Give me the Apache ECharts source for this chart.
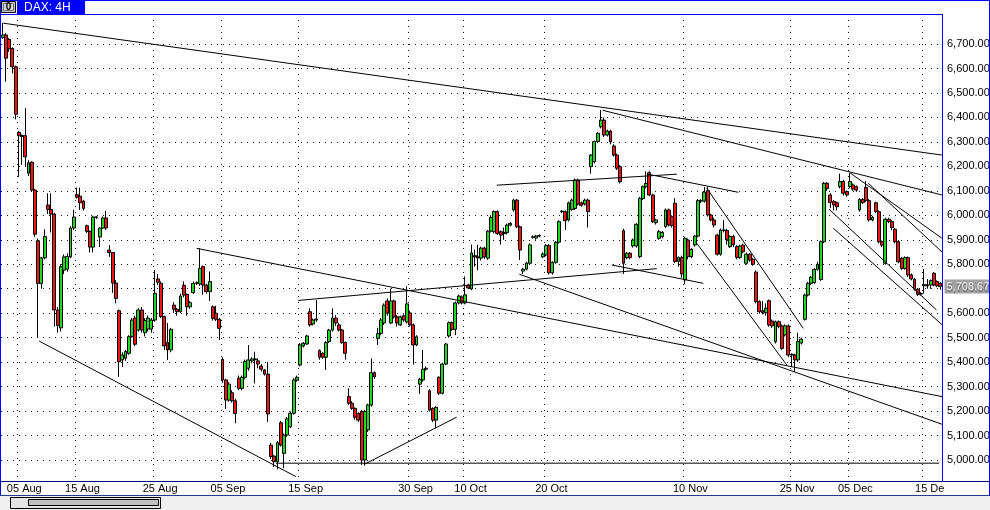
<!DOCTYPE html>
<html><head><meta charset="utf-8">
<script src="https://cdn.jsdelivr.net/npm/echarts/dist/echarts.min.js"></script>
<style>html,body{margin:0;padding:0;background:#fff}#c{width:990px;height:510px}</style>
</head><body><div id="c"></div>
<script>
// ---- data (4H bars) ----
const opens = [
6726,6737,6719,6682,6607,6339,6326,6325,6172,6217,
6103,5896,5722,5826,6042,6024,6005,5613,5540,5776,
5780,5830,5948,6084,6078,6058,5957,5934,5870,5993,
5911,5948,5989,5858,5848,5723,5610,5409,5416,5436,
5504,5580,5531,5613,5520,5535,5535,5572,5740,5722,
5586,5480,5450,5633,5616,5606,5714,5677,5626,5684,
5722,5719,5790,5715,5688,5626,5600,5575,5411,5327,
5245,5275,5242,5334,5293,5338,5375,5405,5413,5405,
5384,5368,5351,5061,5016,4993,5152,5027,5102,5136,
5191,5327,5388,5466,5474,5606,5556,5572,5447,5436,
5420,5484,5531,5580,5552,5531,5480,5259,5232,5211,
5190,5198,5000,5123,5225,5357,5497,5517,5560,5650,
5560,5650,5585,5552,5589,5564,5601,5552,5470,5310,
5327,5371,5283,5211,5163,5338,5273,5392,5507,5561,
5534,5642,5666,5642,5715,5699,5835,5830,5825,5866,
5825,5935,5933,6015,5933,5925,5929,5960,6022,6062,
5953,5772,5780,5804,5910,5907,5915,5830,5838,5876,
5765,5808,5890,6015,6015,5981,6024,6028,6144,6051,
6046,6062,6199,6219,6301,6362,6389,6328,6344,6283,
6246,6199,5937,5827,5845,5875,5875,5831,6069,6117,
6174,6083,5970,5906,5913,5954,6022,5995,6049,5811,
5827,5736,5899,5831,5879,5915,6060,6058,6101,6001,
5981,5919,5841,5940,5938,5872,5913,5872,5828,5878,
5804,5841,5820,5768,5647,5610,5602,5651,5568,5483,
5565,5548,5511,5548,5429,5429,5409,5478,5575,5674,
5722,5725,5779,5738,5892,6131,6083,6056,6051,6117,
6138,6097,6117,6124,6117,6022,6065,6114,6060,5981,
6051,6015,5892,5804,5984,5974,5943,5892,5824,5783,
5827,5756,5738,5698,5680,5712,5716,5715,5763,5729,
5722];
const closes = [
6737,6642,6681,6607,6413,6325,6322,6239,6215,6103,
5923,5722,5826,5913,6024,6005,5613,5550,5790,5830,
5832,5948,5993,6074,6051,6028,5934,5870,5993,5992,
5948,5989,5948,5848,5723,5660,5402,5429,5443,5504,
5572,5473,5613,5531,5570,5580,5572,5681,5726,5586,
5466,5450,5534,5616,5606,5670,5674,5626,5643,5722,
5724,5783,5715,5688,5729,5579,5575,5538,5327,5245,
5310,5242,5190,5293,5338,5402,5409,5413,5410,5392,
5371,5351,5188,5014,4993,5071,5061,5102,5168,5191,
5327,5338,5470,5477,5507,5552,5572,5576,5420,5420,
5480,5531,5580,5560,5531,5480,5436,5232,5211,5175,
5163,5000,5198,5225,5357,5340,5517,5572,5633,5600,
5650,5585,5560,5585,5572,5638,5552,5470,5504,5330,
5371,5375,5204,5163,5215,5273,5392,5474,5561,5534,
5642,5670,5642,5675,5703,5846,5830,5826,5866,5830,
5935,5991,6015,5926,5919,5930,5960,5967,6062,5953,
5858,5780,5805,5879,5912,5915,5917,5842,5876,5765,
5808,5890,5974,6017,5978,6051,6062,6144,6046,6041,
6062,6015,6246,6301,6335,6389,6328,6344,6300,6246,
6192,6137,5804,5845,5827,5899,5963,6069,6117,6130,
6083,5974,5981,5933,5930,6022,5960,5958,5811,5827,
5760,5906,5831,5860,5915,6060,6058,6095,6001,5981,
5960,5841,5940,5938,5900,5913,5880,5828,5874,5851,
5841,5817,5800,5647,5606,5602,5620,5552,5548,5565,
5545,5456,5548,5429,5432,5409,5484,5494,5674,5722,
5747,5779,5800,5892,6131,6110,6052,6042,6035,6138,
6090,6083,6138,6107,6103,6065,6052,6060,5981,5992,
6015,5892,5878,5984,5974,5950,5892,5810,5783,5827,
5756,5740,5698,5677,5678,5716,5712,5733,5715,5712,
5708.67];
const lows = [
6720,6546,6668,6580,6392,6157,6206,6200,6160,6095,
5912,5503,5700,5820,6005,5930,5545,5520,5525,5760,
5770,5825,5940,6068,6022,6020,5928,5848,5848,5985,
5870,5945,5940,5830,5683,5640,5340,5380,5405,5430,
5500,5465,5525,5520,5505,5525,5520,5565,5715,5580,
5450,5409,5440,5600,5590,5600,5665,5590,5618,5678,
5715,5712,5675,5680,5650,5570,5568,5490,5315,5208,
5238,5235,5150,5285,5285,5330,5365,5395,5313,5375,
5362,5345,5155,5005,4972,4962,5055,4966,5095,5130,
5185,5320,5382,5460,5470,5545,5550,5565,5410,5414,
5368,5478,5525,5548,5525,5475,5410,5225,5205,5165,
5155,4980,4977,5115,5218,5332,5470,5510,5552,5590,
5555,5578,5545,5548,5565,5558,5545,5390,5465,5270,
5320,5365,5198,5155,5130,5266,5268,5388,5500,5528,
5510,5636,5636,5636,5698,5694,5790,5775,5815,5822,
5818,5930,5926,5920,5880,5900,5922,5955,6015,5948,
5817,5760,5775,5798,5905,5900,5910,5825,5832,5758,
5758,5802,5885,6008,5940,5975,6018,6022,6040,6035,
6040,5950,6170,6212,6295,6355,6320,6322,6290,6240,
6185,6130,5760,5820,5820,5868,5868,5825,6062,6110,
6078,5968,5962,5900,5906,5948,5954,5950,5805,5790,
5745,5718,5820,5825,5872,5910,6050,6052,5995,5975,
5950,5835,5835,5930,5880,5866,5870,5820,5822,5845,
5798,5810,5794,5640,5598,5595,5590,5545,5540,5476,
5538,5450,5505,5420,5380,5360,5400,5472,5570,5668,
5716,5720,5774,5732,5886,6100,6030,6020,6020,6110,
6080,6076,6110,6100,6096,6015,6046,6055,5975,5975,
6010,5885,5870,5798,5968,5940,5886,5804,5776,5778,
5748,5734,5692,5670,5672,5680,5700,5700,5710,5706,
5696];
const highs = [
6786,6744,6724,6686,6612,6345,6330,6438,6225,6220,
6108,5905,5830,5943,6090,6090,6010,5625,5800,5840,
5845,5955,6023,6113,6113,6062,5962,5938,5998,5996,
5950,5995,6018,5878,5850,5735,5615,5440,5450,5510,
5580,5590,5620,5625,5580,5590,5580,5776,5760,5730,
5590,5560,5540,5645,5622,5680,5730,5680,5650,5730,
5730,5865,5795,5720,5770,5632,5630,5580,5420,5332,
5318,5285,5250,5345,5345,5410,5470,5420,5442,5415,
5392,5372,5400,5070,5020,5078,5160,5108,5175,5198,
5335,5345,5478,5482,5512,5620,5578,5654,5452,5440,
5486,5536,5620,5592,5560,5535,5484,5293,5240,5215,
5195,5205,5205,5230,5415,5362,5540,5580,5640,5660,
5700,5655,5592,5590,5595,5710,5610,5558,5510,5336,
5450,5382,5290,5215,5220,5342,5398,5478,5566,5566,
5648,5676,5672,5750,5720,5880,5860,5880,5872,5872,
5940,6000,6020,6020,5938,5950,5966,5972,6068,6067,
5958,5785,5810,5885,5918,5920,5922,5848,5882,5882,
5812,5895,5980,6022,6020,6056,6068,6150,6150,6056,
6068,6068,6250,6305,6340,6430,6400,6350,6350,6290,
6252,6205,5945,5850,5850,5905,5968,6075,6122,6180,
6180,6088,5986,5940,5936,6028,6028,6000,6070,5832,
5835,5912,5905,5866,5920,6066,6066,6115,6115,6006,
5990,5925,5946,5980,5945,5918,5920,5878,5880,5884,
5848,5846,5826,5775,5652,5650,5640,5656,5574,5570,
5570,5554,5554,5554,5436,5434,5520,5500,5680,5728,
5752,5784,5810,5897,6136,6136,6090,6062,6056,6170,
6145,6102,6172,6130,6122,6070,6070,6140,6066,5998,
6056,6020,5897,5990,5990,5980,5948,5898,5830,5832,
5832,5762,5744,5703,5686,5780,5740,5738,5768,5734,
5726];
// x-axis date ticks: bar index where each labelled day starts
const tickBars   = [5, 23, 47, 68, 92, 126, 143, 168, 211, 244, 262, 285];
const tickLabels = ['05 Aug','15 Aug','25 Aug','05 Sep','15 Sep','30 Sep','10 Oct','20 Oct','10 Nov','25 Nov','05 Dec','15 De'];
// price scale ticks
const priceTickMin = 5000, priceTickMax = 6700, priceTickStep = 100;
const lastPrice = 5708.67;
// trendlines: [barIndex, price] endpoints
const trendlines = [
  [[0.21,6785],[290.5,6246]],
  [[185.6,6429],[290.5,6083]],
  [[60.0,5865],[290.5,5259]],
  [[159.8,5759],[290.5,5146]],
  [[11.3,5486],[90.7,4932]],
  [[84.5,4987],[289.6,4987]],
  [[112.1,4984],[140.4,5175]],
  [[91.4,5652],[202.3,5782]],
  [[152.8,6123],[208.5,6168]],
  [[199.2,6169],[227.5,6094]],
  [[188.4,5797],[216.7,5722]],
  [[217.7,6112],[247.6,5538]],
  [[214.3,5892],[242.5,5388]],
  [[262.0,6174],[290.5,5906]],
  [[267.7,6131],[290.5,5850]],
  [[255.6,6025],[288.8,5613]],
  [[256.9,5947],[290.5,5553]]
];

// ---- chart ----
const FONT = 'Liberation Sans';
const N = opens.length;
const bars = opens.map((_, i) => 'b' + i);
const ohlc = opens.map((o, i) => [o, closes[i], lows[i], highs[i]]);
const fmt = v => Number(v).toLocaleString('en-US', {minimumFractionDigits: 2, maximumFractionDigits: 2});
// full plot spans y 14..481, price 6700 at y 44 and 5000 at y 460
const pxPer = (460 - 44) / (priceTickMax - priceTickMin);
const yMax = priceTickMax + (44 - 14) / pxPer;
const yMin = priceTickMin - (481 - 460) / pxPer;
const dotted = {color: '#1a1a1a', width: 1, type: [1, 5]};

const chart = echarts.init(document.getElementById('c'), null, {renderer: 'canvas', width: 990, height: 510});
const blue = '#0000ff';
const line = (x1, y1, x2, y2, c) => ({type: 'line', z: 100, silent: true, shape: {x1, y1, x2, y2}, style: {stroke: c, lineWidth: 1}});

chart.setOption({
  animation: false,
  backgroundColor: '#fff',
  textStyle: {fontFamily: FONT},
  grid: [
    {left: 1, right: 48, top: 14, bottom: 29, containLabel: false, outerBoundsMode: 'none'},
    {left: 1, right: 48, top: 44, bottom: 50, containLabel: false, outerBoundsMode: 'none'}
  ],
  xAxis: [
    {type: 'category', gridIndex: 0, data: bars, boundaryGap: true,
     axisLine: {show: false}, axisTick: {show: false},
     axisLabel: {interval: (i) => tickBars.includes(i),
                 formatter: (v, i) => tickLabels[tickBars.indexOf(i)],
                 fontFamily: FONT, fontSize: 11, color: '#000', margin: 2, padding: [0, 0, 0, 11]},
     splitLine: {show: true, interval: (i) => tickBars.includes(i), lineStyle: dotted}},
    {type: 'value', gridIndex: 1, show: false, min: 0, max: 1},
    {type: 'value', gridIndex: 0, position: 'top', show: false, min: -0.5, max: N - 0.5}
  ],
  yAxis: [
    {type: 'value', gridIndex: 0, show: false, min: yMin, max: yMax},
    {type: 'value', gridIndex: 1, position: 'right', min: priceTickMin, max: priceTickMax, interval: priceTickStep,
     axisLine: {show: false}, axisTick: {show: false},
     axisLabel: {formatter: fmt, fontFamily: FONT, fontSize: 11, color: '#000', margin: 5},
     splitLine: {show: true, lineStyle: dotted}}
  ],
  series: [
    {type: 'candlestick', xAxisIndex: 0, yAxisIndex: 0, data: ohlc, barWidth: 3.4, z: 3,
     itemStyle: {color: '#22d822', color0: '#ee1515', borderColor: '#000', borderColor0: '#000', borderColorDoji: '#000', borderWidth: 1}},
    {type: 'scatter', xAxisIndex: 2, yAxisIndex: 0, data: [[N - 0.5, lastPrice]], symbol: 'rect', symbolSize: 1,
     itemStyle: {color: 'rgba(0,0,0,0)'}, silent: true, clip: false, z: 10,
     label: {show: true, position: 'right', distance: 2, formatter: () => fmt(lastPrice),
             backgroundColor: '#8a8a8a', color: '#fff', padding: [2, 1, 1, 2], fontFamily: FONT, fontSize: 11}}
  ].concat(trendlines.map(t => ({
    type: 'line', xAxisIndex: 2, yAxisIndex: 0, data: t, symbol: 'none', showSymbol: false,
    silent: true, z: 4, lineStyle: {color: '#000', width: 1}
  }))),
  graphic: {elements: [
    {type: 'rect', z: 99, silent: true, shape: {x: 0, y: 0, width: 990, height: 14}, style: {fill: '#fff'}},
    {type: 'rect', z: 99, silent: true, shape: {x: 0, y: 495, width: 990, height: 15}, style: {fill: '#f0f0f0'}},
    line(0, 0.5, 990, 0.5, blue),
    line(0.5, 0, 0.5, 495, blue),
    line(989.5, 0, 989.5, 495, blue),
    line(0, 14.5, 942.5, 14.5, blue),
    line(942.5, 14, 942.5, 481, blue),
    line(0, 481.5, 990, 481.5, '#000080'),
    line(0, 495.5, 990, 495.5, '#203c8c'),
    {type: 'rect', z: 100, silent: true, shape: {x: 10.5, y: 497.5, width: 150, height: 11}, style: {fill: '#e4e4e4', stroke: '#000', lineWidth: 1}},
    {type: 'rect', z: 101, silent: true, shape: {x: 28.5, y: 499.5, width: 130, height: 6}, style: {fill: '#c0c0c0', stroke: '#000', lineWidth: 1}},
    {type: 'rect', z: 100, silent: true, shape: {x: 1.5, y: 1.5, width: 14, height: 11}, style: {fill: '#c8c8c8', stroke: '#000', lineWidth: 1}},
    {type: 'rect', z: 101, silent: true, shape: {x: 3.5, y: 3.5, width: 10, height: 7}, style: {fill: '#d8d8d8', stroke: '#707070', lineWidth: 1}},
    {type: 'text', z: 102, silent: true, style: {text: '0', x: 8.5, y: 7.5, fill: '#000', font: 'bold 10px ' + FONT, align: 'center', verticalAlign: 'middle'}},
    {type: 'rect', z: 100, silent: true, shape: {x: 17, y: 1, width: 68, height: 13}, style: {fill: blue}},
    {type: 'text', z: 101, silent: true, style: {text: 'DAX: 4H', x: 24, y: 8, fill: '#fff', font: '12px ' + FONT, align: 'left', verticalAlign: 'middle'}}
  ]}
});
</script>
</body></html>
